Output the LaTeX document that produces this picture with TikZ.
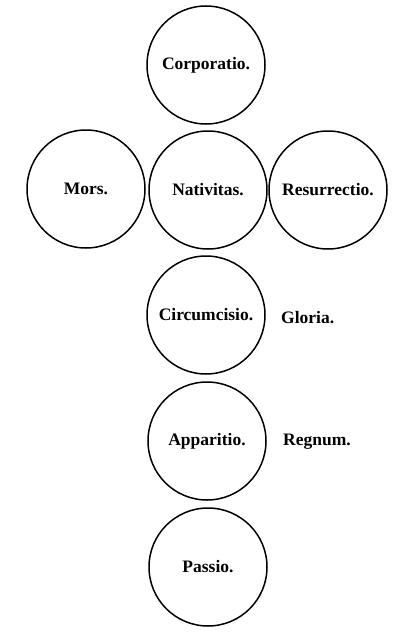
\documentclass[tikz,border=0pt]{standalone}
\usepackage{fontspec}
\setmainfont{Liberation Serif}
\begin{document}
\begin{tikzpicture}[x=1pt,y=-1pt,
  ring/.style={circle,draw=black,line width=1.5pt,minimum size=118pt,inner sep=0pt,
    font=\fontsize{17.5}{19}\selectfont\bfseries},
  side/.style={font=\fontsize{17.5}{19}\selectfont\bfseries,inner sep=0pt,anchor=west}]
\useasboundingbox (0,0) rectangle (413,642);
\node[ring] (corp) at (206,65) {Corporatio.};
\node[ring] (mors) at (86,189) {Mors.};
\node[ring] (nat) at (208,190) {Nativitas.};
\node[ring] (res) at (328,190) {Resurrectio.};
\node[ring] (circ) at (206,315) {Circumcisio.};
\node[ring] (app) at (207,441) {Apparitio.};
\node[ring] (pas) at (208,567) {Passio.};
\node[side] (glo) at (281,318) {Gloria.};
\node[side] (reg) at (283,442) {Regnum.};
\end{tikzpicture}
\end{document}
